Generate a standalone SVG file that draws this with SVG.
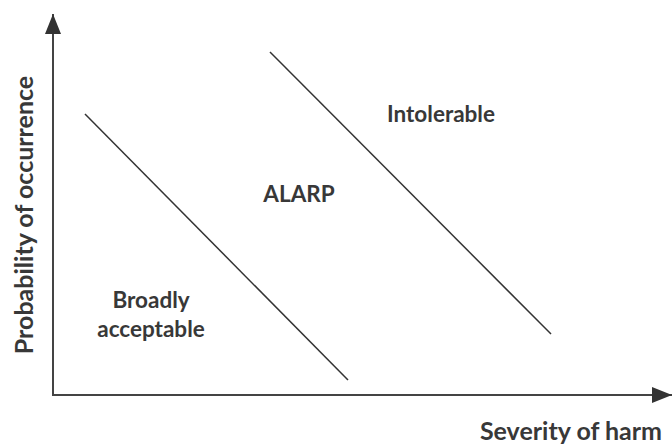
<svg xmlns="http://www.w3.org/2000/svg" width="672" height="445" viewBox="0 0 672 445">
<style>
.lbl{font-family:Lato,"Open Sans","Liberation Sans",sans-serif;font-weight:bold;fill:#383838}
.r{font-size:22.5px}
.ax{font-size:25px}
.bd{stroke:#333;stroke-width:1.5;fill:none}
.axis{stroke:#444;stroke-width:2;fill:none}
</style>
<defs>
<marker id="ah" viewBox="0 0 20 16" refX="20" refY="8" markerWidth="20" markerHeight="16" markerUnits="userSpaceOnUse" orient="auto">
<path d="M0,0 L20,8 L0,16 Z" fill="#333"/>
</marker>
</defs>
<g id="connectors">
<line id="y-axis" class="axis" x1="53" y1="395" x2="53" y2="14" marker-end="url(#ah)"/>
<line id="x-axis" class="axis" x1="52" y1="395" x2="672" y2="395" marker-end="url(#ah)"/>
<line id="boundary-low" class="bd" x1="85" y1="114" x2="348" y2="380"/>
<line id="boundary-high" class="bd" x1="270" y1="52" x2="551" y2="334"/>
</g>
<g id="intolerable"><text class="lbl r" x="441" y="122" text-anchor="middle">Intolerable</text></g>
<g id="alarp"><text class="lbl r" x="299" y="202" text-anchor="middle">ALARP</text></g>
<g id="broadly"><text class="lbl r" text-anchor="middle"><tspan x="151" y="308">Broadly</tspan><tspan x="151" y="337">acceptable</tspan></text></g>
<g id="x-label"><text class="lbl ax" x="571" y="440" text-anchor="middle">Severity of harm</text></g>
<g id="y-label"><text class="lbl ax" transform="translate(33,215) rotate(-90)" text-anchor="middle">Probability of occurrence</text></g>
</svg>
